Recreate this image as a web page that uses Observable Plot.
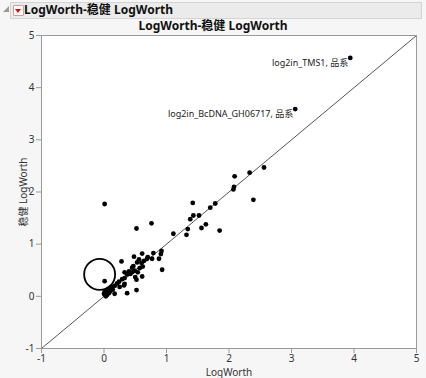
<!DOCTYPE html>
<html><head><meta charset="utf-8">
<script src="https://cdn.jsdelivr.net/npm/d3@7"></script>
<script src="https://cdn.jsdelivr.net/npm/@observablehq/plot@0.6"></script>
<style>
html,body{margin:0;padding:0;background:#f6f6f6;width:426px;height:378px;overflow:hidden;font-family:"Noto Sans","Noto Sans CJK SC",sans-serif;}
#disc{position:absolute;left:3px;top:6px;width:0;height:0;border-left:6px solid transparent;border-bottom:6px solid #999;}
#hdr{position:absolute;left:10px;top:2px;width:410px;height:15px;background:#ebebeb;border:1px solid #d4d4d4;}
#btn{position:absolute;left:13px;top:5px;width:9px;height:9px;background:#fff;border:1px solid #c9a0a0;border-radius:1px;}
#btn:after{content:"";position:absolute;left:1px;top:3px;border-left:3.5px solid transparent;border-right:3.5px solid transparent;border-top:4px solid #d01010;}
#hdrtxt{position:absolute;left:24px;top:1px;font-weight:bold;font-size:12px;line-height:17px;color:#111;}
#title{position:absolute;left:0;top:18px;width:426px;text-align:center;font-weight:bold;font-size:12px;line-height:16px;color:#111;}
#chart{position:absolute;left:0;top:26px;}
</style></head>
<body>
<div id="hdr"></div><div id="disc"></div><div id="btn"></div>
<div id="hdrtxt">LogWorth-稳健 LogWorth</div>
<div id="title">LogWorth-稳健 LogWorth</div>
<div id="chart"></div>
<script>
const xDomain = [-1, 5];
const yDomain = [-1, 5];
const ticks = [-1, 0, 1, 2, 3, 4, 5];
const xTitle = "LogWorth";
const yTitle = "稳健 LogWorth";

const logWorth = [3.94,3.06,2.56,2.33,2.09,2.08,2.07,2.39,1.42,1.78,1.70,1.43,1.52,1.38,1.63,1.56,1.85,1.34,1.32,1.11,0.76,0.01,0.52,0.92,0.91,0.79,0.61,0.69,0.77,0.88,0.48,0.56,0.28,0.60,0.53,0.93,0.62,0.57,0.49,0.45,0.54,0.40,0.37,0.61,0.50,0.47,0.33,0.42,0.33,0.29,0.24,0.21,0.17,0.01,0.12,0.07,0.04,0.01,0.00,0.33,0.37,0.52,0.17,0.32,0.52,0.02,0.05,0.10,0.14,0.70,0.64,0.45,0.25,0.08,0.03];
const robustLogWorth = [4.57,3.59,2.47,2.37,2.30,2.10,2.05,1.85,1.79,1.78,1.70,1.55,1.55,1.48,1.38,1.31,1.26,1.29,1.18,1.20,1.40,1.77,1.30,0.87,0.81,0.83,0.82,0.72,0.72,0.72,0.76,0.71,0.67,0.64,0.65,0.51,0.57,0.54,0.49,0.46,0.46,0.48,0.42,0.38,0.37,0.58,0.46,0.43,0.35,0.33,0.28,0.25,0.20,0.29,0.18,0.14,0.11,0.08,0.05,0.24,0.06,0.12,0.05,0.21,0.32,0.02,0.03,0.10,0.13,0.75,0.68,0.55,0.18,0.06,0.00];

const labelX = [3.94, 3.06];
const labelY = [4.57, 3.59];
const labelText = ["log2in_TMS1, 品系", "log2in_BcDNA_GH06717, 品系"];

const circleX = [-0.07];
const circleY = [0.42];

const points = logWorth.map((x, i) => ({x, y: robustLogWorth[i]}));
const labels = labelX.map((x, i) => ({x, y: labelY[i], t: labelText[i]}));
const circle = circleX.map((x, i) => ({x, y: circleY[i]}));
const diag = xDomain.map(v => ({x: v, y: v}));

const fmt = d => String(d);

const chart = Plot.plot({
  width: 426, height: 352,
  marginTop: 9, marginBottom: 30, marginLeft: 41, marginRight: 10,
  style: {background: "transparent", fontFamily: '"Noto Sans","Noto Sans CJK SC",sans-serif', fontSize: "10px", color: "#333"},
  x: {domain: xDomain},
  y: {domain: yDomain},
  marks: [
    Plot.frame({fill: "white", stroke: "none"}),
    Plot.line(diag, {x: "x", y: "y", stroke: "#555", strokeWidth: 1}),
    Plot.dot(points, {x: "x", y: "y", r: 2.4, fill: "black", stroke: "none"}),
    Plot.dot(circle, {x: "x", y: "y", r: 15.5, fill: "none", stroke: "black", strokeWidth: 1.8}),
    Plot.text(labels, {x: "x", y: "y", text: "t", textAnchor: "end", dx: -2, dy: 5, fill: "#222", fontSize: 9, fontFamily: '"Noto Sans","Noto Sans CJK SC",sans-serif'}),
    Plot.frame({stroke: "#9a9a9a"}),
    Plot.axisX({ticks, tickFormat: fmt, tickSize: 5, tickPadding: 1, stroke: "#9a9a9a", label: xTitle, labelAnchor: "center", labelArrow: "none", fontSize: 10}),
    Plot.axisY({ticks, tickFormat: fmt, tickSize: 5, tickPadding: 2, stroke: "#9a9a9a", label: yTitle, labelAnchor: "center", labelArrow: "none", labelOffset: 22, fontSize: 10})
  ]
});
document.getElementById("chart").appendChild(chart);
</script>
</body></html>
